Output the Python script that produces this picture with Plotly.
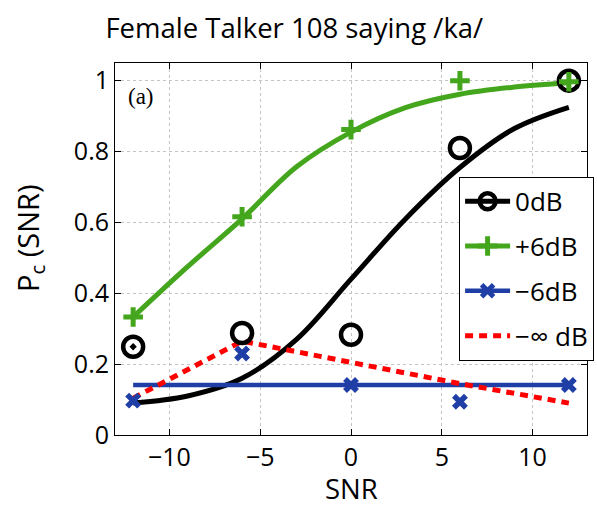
import plotly.graph_objects as go

# ---- data ----
snr_pts = [-12, -6, 0, 6, 12]
pc_0db = [0.249, 0.288, 0.283, 0.81, 1.0]
pc_p6db = [0.333, 0.616, 0.862, 1.0, 0.997]
pc_m6db = [0.097, 0.23, 0.141, 0.094, 0.141]
pc_minf = [0.104, 0.265, 0.205, 0.145, 0.09]

snr_fit = [-12, -9, -6, -3, 0, 3, 6, 9, 12]
fit_0db = [0.09, 0.11, 0.16, 0.27, 0.44, 0.61, 0.755, 0.865, 0.925]
fit_p6db = [0.333, 0.475, 0.61, 0.757, 0.855, 0.924, 0.962, 0.982, 0.994]
fit_m6db_x = [-12, 12]
fit_m6db_y = [0.141, 0.141]

x_ticks = [-10, -5, 0, 5, 10]
y_ticks = [0, 0.2, 0.4, 0.6, 0.8, 1]
y_ticklabels = ["0", "0.2", "0.4", "0.6", "0.8", "1"]

BLACK = "#000000"
GREEN = "#44a61c"
BLUE = "#1f3ea6"
RED = "#ff0000"
FONT = "Open Sans"

fig = go.Figure()

# curves
fig.add_trace(go.Scatter(x=snr_fit, y=fit_0db, mode="lines", line=dict(color=BLACK, width=5, shape="spline"), showlegend=False))
fig.add_trace(go.Scatter(x=snr_fit, y=fit_p6db, mode="lines", line=dict(color=GREEN, width=5, shape="spline"), showlegend=False))
fig.add_trace(go.Scatter(x=fit_m6db_x, y=fit_m6db_y, mode="lines", line=dict(color=BLUE, width=4.5), showlegend=False))
fig.add_trace(go.Scatter(x=snr_pts, y=pc_minf, mode="lines", line=dict(color=RED, width=5, dash="8px,6px"), showlegend=False))

# markers
fig.add_trace(go.Scatter(x=snr_pts, y=pc_0db, mode="markers",
                         marker=dict(symbol=["circle-open-dot", "circle-open", "circle-open", "circle-open", "circle-open"],
                                     size=20, color=BLACK, line=dict(color=BLACK, width=4.5)), showlegend=False))
fig.add_trace(go.Scatter(x=snr_pts, y=pc_p6db, mode="markers",
                         marker=dict(symbol="cross-thin-open", size=14, color=GREEN, line=dict(color=GREEN, width=5)), showlegend=False))
fig.add_trace(go.Scatter(x=snr_pts, y=pc_m6db, mode="markers",
                         marker=dict(symbol="x-thin-open", size=12, color=BLUE, line=dict(color=BLUE, width=5.5)), showlegend=False))

# legend entries
fig.add_trace(go.Scatter(x=[None], y=[None], mode="lines+markers", name="0dB", legendgroup="a",
                         line=dict(color=BLACK, width=5),
                         marker=dict(symbol="circle-open", size=20, color=BLACK, line=dict(color=BLACK, width=4.5))))
fig.add_trace(go.Scatter(x=[None], y=[None], mode="lines+markers", name="+6dB", legendgroup="b",
                         line=dict(color=GREEN, width=5),
                         marker=dict(symbol="cross-thin-open", size=14, color=GREEN, line=dict(color=GREEN, width=5))))
fig.add_trace(go.Scatter(x=[None], y=[None], mode="lines+markers", name="\u22126dB", legendgroup="c",
                         line=dict(color=BLUE, width=4.5),
                         marker=dict(symbol="x-thin-open", size=12, color=BLUE, line=dict(color=BLUE, width=5.5))))
fig.add_trace(go.Scatter(x=[None], y=[None], mode="lines", name="\u2212\u221e dB", legendgroup="d",
                         line=dict(color=RED, width=5, dash="8px,6px")))

axis_common = dict(showline=True, linecolor="black", linewidth=1, mirror="ticks",
                   ticks="inside", ticklen=6, tickcolor="black",
                   showgrid=True, gridcolor="#c4c4c4", gridwidth=1, griddash="dot",
                   zeroline=False, automargin=False, tickfont=dict(family=FONT, size=25, color="black"))

fig.update_layout(
    width=597, height=509,
    margin=dict(l=115, r=10, t=63, b=74, autoexpand=False),
    paper_bgcolor="white", plot_bgcolor="white",
    title=dict(text="Female Talker 108 saying /ka/", x=0.493, xanchor="center", y=0.945, yanchor="middle",
               font=dict(family=FONT, size=27.5, color="black")),
    xaxis=dict(range=[-13, 13], tickvals=x_ticks, **axis_common),
    yaxis=dict(range=[0, 1.05], tickvals=y_ticks, ticktext=y_ticklabels, **axis_common),
    legend=dict(x=0.729, y=0.694, xanchor="left", yanchor="top", bgcolor="white",
                bordercolor="black", borderwidth=1, font=dict(family=FONT, size=26, color="black"),
                tracegroupgap=8, itemwidth=45),
    annotations=[
        dict(x=-11.55, y=0.955, xref="x", yref="y", text="(a)", showarrow=False,
             font=dict(family="Liberation Serif", size=23, color="black")),
        dict(x=-0.18, y=0.527, xref="paper", yref="paper", text="P<sub>c</sub> (SNR)", textangle=-90,
             showarrow=False, xanchor="center", yanchor="middle",
             font=dict(family=FONT, size=29, color="black")),
        dict(x=0.5, y=(435 - 508) / 372, xref="paper", yref="paper", text="SNR",
             showarrow=False, xanchor="center", yanchor="bottom", borderpad=0,
             font=dict(family=FONT, size=27.5, color="black")),
    ],
)

fig.write_html("out.html")
